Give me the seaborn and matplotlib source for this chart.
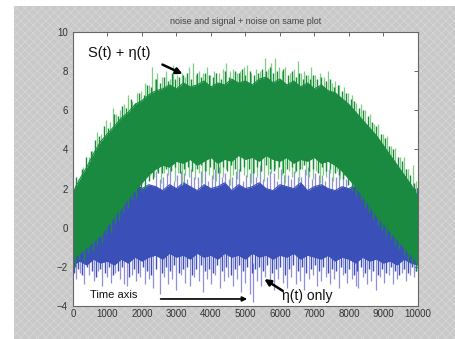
import numpy as np
import pandas as pd
import matplotlib
matplotlib.use('Agg')
import matplotlib.pyplot as plt
import seaborn as sns
from matplotlib.patches import Rectangle

# time grid for the band edges (every 200 samples)
t_grid = list(range(0, 10001, 200))

# dense core of S(t) + eta(t)
green_hi = [1.8, 2.5, 3.1, 3.8, 4.4, 4.8, 5.2, 5.6, 5.9, 6.3,
            6.5, 6.8, 7.0, 7.1, 7.3, 7.1, 7.4, 7.2, 7.3, 7.5,
            7.2, 7.4, 7.3, 7.6, 7.4, 7.5, 7.3, 7.6, 7.7, 7.4,
            7.6, 7.3, 7.5, 7.2, 7.4, 7.1, 7.3, 7.0, 6.9, 6.6,
            6.3, 5.9, 5.5, 5.1, 4.7, 4.2, 3.7, 3.2, 2.7, 2.2, 1.6]
green_lo = [-1.6, -1.3, -1.0, -0.7, -0.4, 0.1, 0.6, 1.0, 1.5, 1.9,
            2.3, 2.7, 3.0, 3.2, 3.1, 3.4, 3.3, 3.5, 3.2, 3.4,
            3.6, 3.3, 3.5, 3.4, 3.7, 3.5, 3.6, 3.4, 3.7, 3.5,
            3.4, 3.6, 3.3, 3.5, 3.4, 3.6, 3.3, 3.4, 3.2, 2.9,
            2.5, 2.1, 1.6, 1.1, 0.6, 0.2, -0.2, -0.6, -1.0, -1.4, -1.8]

# dense core of eta(t) only
blue_hi = [1.9, 2.0, 2.2, 1.9, 2.1, 2.0, 2.2, 1.9, 2.1, 2.3,
           2.0, 2.2, 2.1, 1.9, 2.2, 2.0, 2.3, 2.1, 1.9, 2.2,
           2.0, 2.1, 2.3, 1.9, 2.2, 2.0, 2.1, 2.3, 2.0, 1.9,
           2.2, 2.1, 2.0, 2.3, 1.9, 2.1, 2.2, 2.0, 1.9, 2.1,
           2.0, 2.2, 1.9, 2.1, 2.0, 2.2, 1.9, 2.0, 2.1, 1.9, 2.0]
blue_lo = [-1.9, -1.7, -1.9, -1.6, -1.8, -1.7, -1.9, -1.6, -1.8, -1.5,
           -1.7, -1.5, -1.4, -1.6, -1.3, -1.5, -1.4, -1.6, -1.3, -1.5,
           -1.4, -1.6, -1.3, -1.5, -1.4, -1.6, -1.3, -1.5, -1.4, -1.6,
           -1.4, -1.5, -1.3, -1.6, -1.4, -1.5, -1.6, -1.4, -1.7, -1.5,
           -1.6, -1.8, -1.5, -1.7, -1.6, -1.8, -1.7, -1.9, -1.6, -1.8, -1.9]

# light spikes sticking out of the cores
green_up_t = [60, 150, 300, 450, 560, 700, 820, 950, 1060, 1150,
              1260, 1350, 1480, 1600, 1720, 1850, 1980, 2100, 2200, 2300,
              2380, 2450, 2580, 2700, 2800, 2900, 3020, 3150, 3250, 3350,
              3480, 3560, 3650, 3760, 3880, 3980, 4100, 4230, 4350, 4450,
              4560, 4650, 4750, 4850, 4950, 5050, 5170, 5300, 5420, 5560,
              5650, 5750, 5860, 5980, 6050, 6150, 6280, 6400, 6520, 6600,
              6700, 6800, 6900, 7020, 7150, 7270, 7400, 7500, 7600, 7720,
              7850, 7980, 8100, 8220, 8350, 8470, 8600, 8720, 8850, 8980,
              9100, 9230, 9350, 9480, 9600, 9720, 9850, 9950]
green_up_v = [2.2, 2.5, 3.1, 3.6, 3.9, 4.9, 4.8, 5.5, 5.4, 6.1,
              5.8, 6.0, 6.3, 6.8, 6.5, 6.9, 7.0, 7.4, 7.3, 8.2,
              7.6, 7.9, 7.7, 8.0, 7.6, 8.3, 7.8, 7.9, 7.7, 8.2,
              8.4, 7.8, 8.0, 7.9, 8.2, 7.8, 8.0, 7.9, 8.1, 8.4,
              8.0, 8.1, 7.9, 8.0, 8.2, 8.3, 7.9, 8.1, 8.0, 8.7,
              8.1, 8.4, 8.7, 8.2, 8.0, 8.2, 7.9, 8.1, 8.5, 7.9,
              8.0, 7.8, 8.2, 7.8, 7.9, 7.7, 8.0, 7.4, 7.5, 7.3,
              7.2, 6.9, 6.8, 6.4, 6.3, 6.0, 5.8, 5.3, 5.3, 4.8,
              4.7, 4.2, 4.1, 3.6, 3.6, 3.0, 3.2, 2.4]

green_dn_t = [2350, 2450, 2550, 2650, 2750, 2850, 2950, 3050, 3150, 3250,
              3350, 3450, 3550, 3650, 3750, 3850, 3950, 4050, 4150, 4250,
              4350, 4450, 4550, 4650, 4750, 4850, 4950, 5050, 5150, 5250,
              5350, 5450, 5550, 5650, 5750, 5850, 5950, 6050, 6150, 6250,
              6350, 6450, 6550, 6650, 6750, 6850, 6950, 7050, 7150, 7250,
              7350, 7450, 7550, 7650, 7750, 7850]
green_dn_v = [2.6, 2.9, 2.3, 2.8, 2.7, 3.0, 2.4, 2.8, 2.2, 2.7,
              2.6, 2.9, 2.5, 2.8, 2.3, 2.9, 2.7, 2.5, 2.4, 2.8,
              2.6, 3.0, 2.2, 2.7, 2.5, 2.9, 2.7, 2.6, 2.3, 2.8,
              2.6, 2.9, 2.4, 2.7, 2.8, 3.0, 2.5, 2.7, 2.3, 2.9,
              2.6, 2.8, 2.4, 3.0, 2.7, 2.6, 2.5, 2.9, 2.3, 2.7,
              2.6, 2.8, 2.4, 2.9, 2.5, 2.7]

blue_up_t = [2420, 2520, 2620, 2720, 2820, 2920, 3020, 3120, 3220, 3320,
             3420, 3520, 3620, 3720, 3820, 3920, 4020, 4120, 4220, 4320,
             4420, 4520, 4620, 4720, 4820, 4920, 5020, 5120, 5220, 5320,
             5420, 5520, 5620, 5720, 5820, 5920, 6020, 6120, 6220, 6320,
             6420, 6520, 6620, 6720, 6820, 6920, 7020, 7120, 7220, 7320,
             7420, 7520, 7620, 7720, 7820, 7920]
blue_up_v = [2.9, 2.5, 2.6, 2.8, 3.1, 2.4, 2.7, 2.9, 2.8, 2.5,
             3.0, 2.6, 2.6, 2.9, 2.9, 2.4, 2.7, 3.0, 3.1, 2.6,
             2.8, 2.5, 2.6, 2.9, 3.0, 2.4, 2.7, 2.8, 2.9, 2.6,
             3.2, 2.5, 2.6, 2.9, 2.8, 2.4, 3.0, 2.7, 2.7, 2.5,
             2.9, 2.6, 2.6, 3.0, 3.1, 2.5, 2.8, 2.7, 2.7, 2.4,
             3.0, 2.6, 2.6, 2.9, 2.8, 2.5]

blue_dn_t = [80, 200, 330, 470, 600, 720, 850, 980, 1100, 1230,
             1360, 1480, 1560, 1700, 1830, 1950, 2080, 2200, 2330, 2520,
             2640, 2760, 2880, 3000, 3130, 3260, 3380, 3500, 3640, 3760,
             3880, 4000, 4120, 4250, 4380, 4500, 4630, 4760, 4880, 5000,
             5120, 5220, 5340, 5460, 5580, 5700, 5830, 5950, 6080, 6200,
             6330, 6460, 6580, 6700, 6830, 6950, 7080, 7200, 7330, 7460,
             7580, 7700, 7830, 7950, 8080, 8200, 8270, 8400, 8530, 8650,
             8780, 8900, 9030, 9150, 9280, 9400, 9530, 9650, 9780, 9900]
blue_dn_v = [-2.6, -2.3, -2.9, -2.4, -2.7, -2.2, -3.0, -2.5, -2.8, -2.3,
             -2.6, -2.9, -3.0, -2.4, -2.7, -2.5, -2.9, -2.6, -3.1, -3.4,
             -2.5, -2.9, -2.6, -3.2, -2.4, -2.8, -3.0, -2.5, -2.7, -3.3,
             -2.6, -2.9, -2.4, -3.1, -2.7, -2.5, -3.0, -2.6, -3.3, -2.8,
             -3.4, -3.8, -2.7, -3.0, -2.5, -2.9, -3.2, -2.6, -2.8, -3.1,
             -2.5, -2.9, -2.7, -3.2, -2.6, -2.4, -3.0, -2.7, -2.5, -2.9,
             -2.6, -3.1, -2.4, -2.8, -2.6, -3.0, -3.1, -2.5, -2.9, -2.7,
             -3.2, -2.5, -2.8, -2.4, -2.9, -2.6, -2.3, -2.7, -2.4, -2.5]

# dark (core coloured) spikes that make the band edges ragged
dark_g_up_t = [100, 250, 380, 520, 640, 760, 900, 1020, 1200, 1310,
               1420, 1550, 1680, 1800, 1920, 2050, 2160, 2260, 2420, 2520,
               2640, 2760, 2860, 2960, 3080, 3200, 3300, 3420, 3600, 3700,
               3820, 3930, 4050, 4160, 4290, 4400, 4520, 4700, 4800, 4900,
               5000, 5120, 5240, 5360, 5480, 5600, 5700, 5800, 5920, 6100,
               6220, 6340, 6460, 6560, 6660, 6760, 6860, 6960, 7080, 7200,
               7330, 7450, 7560, 7680, 7800, 7920, 8050, 8160, 8280, 8400,
               8540, 8660, 8780, 8920, 9040, 9160, 9290, 9420, 9540, 9660,
               9780, 9900]
dark_g_up_v = [2.6, 3.0, 3.6, 3.9, 4.5, 4.7, 5.2, 5.1, 5.8, 5.7,
               6.2, 6.1, 6.6, 6.4, 6.9, 6.8, 7.3, 7.2, 7.6, 7.4,
               7.7, 7.5, 7.9, 7.6, 7.7, 7.8, 7.9, 7.6, 7.9, 7.7,
               7.9, 7.8, 7.7, 7.9, 7.6, 8.0, 7.7, 8.0, 7.9, 8.1,
               7.8, 8.0, 7.8, 7.9, 8.1, 8.0, 8.2, 7.9, 8.0, 8.1,
               7.8, 8.0, 7.7, 7.9, 7.6, 7.8, 7.6, 7.8, 7.6, 7.7,
               7.5, 7.6, 7.2, 7.3, 7.0, 6.9, 6.6, 6.5, 6.1, 6.0,
               5.7, 5.4, 5.2, 4.8, 4.6, 4.2, 4.0, 3.6, 3.4, 3.0,
               2.7, 2.3]

dark_g_dn_t = [60, 180, 310, 440, 580, 700, 830, 960, 1090, 1210,
               1340, 1460, 1590, 1710, 1840, 1960, 2090, 2210, 2330, 2460,
               2590, 2710, 2840, 2960, 3090, 3210, 3340, 3460, 3590, 3710,
               3840, 3960, 4090, 4210, 4340, 4460, 4590, 4710, 4840, 4960,
               5090, 5210, 5340, 5460, 5590, 5710, 5840, 5960, 6090, 6210,
               6340, 6460, 6590, 6710, 6840, 6960, 7090, 7210, 7340, 7460,
               7590, 7710, 7840, 7960, 8090, 8210, 8340, 8460, 8590, 8710,
               8840, 8960, 9090, 9210, 9340, 9460, 9590, 9710, 9840, 9960]
dark_g_dn_v = [-2.0, -1.6, -1.7, -1.3, -1.2, -0.9, -0.8, -0.3, -0.2, 0.2,
               0.4, 0.8, 1.0, 1.4, 1.5, 1.9, 2.0, 2.4, 2.5, 2.8,
               2.8, 3.0, 2.9, 3.1, 2.8, 3.0, 3.1, 2.9, 3.0, 3.2,
               2.9, 3.1, 3.0, 2.8, 3.1, 2.9, 3.2, 3.0, 2.9, 3.1,
               3.0, 2.8, 3.1, 2.9, 3.2, 3.0, 2.9, 3.1, 2.8, 3.0,
               3.1, 2.9, 3.0, 3.2, 2.9, 3.0, 2.8, 3.1, 2.9, 3.0,
               2.8, 2.7, 2.5, 2.2, 1.9, 1.6, 1.4, 1.0, 0.8, 0.4,
               0.1, -0.1, -0.4, -0.6, -0.9, -1.1, -1.4, -1.7, -1.9, -2.2]

dark_b_dn_t = [40, 150, 270, 400, 540, 660, 790, 920, 1050, 1170,
               1300, 1420, 1620, 1760, 1890, 2020, 2140, 2270, 2400, 2580,
               2700, 2820, 2940, 3060, 3190, 3320, 3440, 3570, 3700, 3820,
               3940, 4060, 4190, 4310, 4440, 4570, 4690, 4820, 4940, 5060,
               5180, 5290, 5400, 5520, 5640, 5760, 5890, 6010, 6140, 6260,
               6390, 6520, 6640, 6760, 6890, 7010, 7140, 7260, 7390, 7520,
               7640, 7760, 7890, 8010, 8140, 8240, 8340, 8460, 8590, 8710,
               8840, 8960, 9090, 9210, 9340, 9460, 9590, 9710, 9840, 9960]
dark_b_dn_v = [-2.3, -2.1, -2.4, -2.0, -2.2, -2.5, -2.1, -2.3, -2.0, -2.4,
               -2.2, -2.0, -2.5, -2.1, -2.3, -2.0, -2.2, -2.4, -2.1, -2.3,
               -2.0, -2.2, -1.9, -2.3, -2.1, -2.0, -2.4, -2.1, -1.9, -2.2,
               -2.1, -2.3, -1.9, -2.2, -2.0, -2.4, -2.1, -1.9, -2.2, -2.0,
               -2.3, -2.1, -2.0, -2.2, -1.9, -2.3, -2.1, -2.0, -2.4, -2.1,
               -1.9, -2.2, -2.0, -2.3, -2.1, -1.9, -2.2, -2.0, -2.3, -2.1,
               -2.2, -2.0, -2.3, -2.1, -2.4, -2.2, -2.0, -2.3, -2.1, -2.2,
               -2.4, -2.1, -2.3, -2.0, -2.2, -2.4, -2.1, -2.3, -2.0, -2.2]

x_ticks = list(range(0, 10001, 1000))
y_ticks = [-4, -2, 0, 2, 4, 6, 8, 10]

GREEN = '#1a8a40'
LIGHT_GREEN = '#7fcf80'
BLUE = '#3a50b8'
LIGHT_BLUE = '#8f8fdc'

sns.set_style('white')
plt.rcParams['font.family'] = ['Liberation Sans', 'DejaVu Sans']
plt.rcParams['hatch.linewidth'] = 0.5

bands = pd.DataFrame({'t': t_grid, 'g_hi': green_hi, 'g_lo': green_lo,
                      'b_hi': blue_hi, 'b_lo': blue_lo})

fig = plt.figure(figsize=(4.55, 3.39), dpi=100, facecolor='white')
fig.patches.append(Rectangle((0.031, 0.0), 0.969, 0.982, transform=fig.transFigure,
                             facecolor='#c9c9c9', edgecolor='#d8d8d8', hatch='xxxx',
                             linewidth=0, zorder=-10))
ax = fig.add_axes([0.1604, 0.0973, 0.758, 0.808])
ax.set_zorder(5)
ax.set_facecolor('white')

# eta(t) only
bd = np.array(blue_dn_v)
ax.vlines(blue_dn_t, bd + 2.0, bd, color=LIGHT_BLUE, lw=0.9, zorder=1)
bu = np.array(blue_up_v)
ax.vlines(blue_up_t, bu - 1.5, bu, color=LIGHT_BLUE, lw=0.9, zorder=1)
ax.fill_between(bands['t'], bands['b_lo'], bands['b_hi'], color=BLUE, lw=0, zorder=2)
sns.lineplot(data=bands, x='t', y='b_lo', color=BLUE, lw=0.8, ax=ax, zorder=2.1)
sns.lineplot(data=bands, x='t', y='b_hi', color=BLUE, lw=0.8, ax=ax, zorder=2.1)
dbd = np.array(dark_b_dn_v)
ax.vlines(dark_b_dn_t, dbd + 1.0, dbd, color=BLUE, lw=1.0, zorder=2.2)

# S(t) + eta(t)
gu = np.array(green_up_v)
ax.vlines(green_up_t, gu - 2.0, gu, color=LIGHT_GREEN, lw=0.9, zorder=3)
gd = np.array(green_dn_v)
ax.vlines(green_dn_t, gd + 1.5, gd, color=LIGHT_GREEN, lw=0.9, zorder=3)
ax.fill_between(bands['t'], bands['g_lo'], bands['g_hi'], color=GREEN, lw=0, zorder=4)
sns.lineplot(data=bands, x='t', y='g_hi', color=GREEN, lw=0.8, ax=ax, zorder=4.1)
sns.lineplot(data=bands, x='t', y='g_lo', color=GREEN, lw=0.8, ax=ax, zorder=4.1)
dgu = np.array(dark_g_up_v)
ax.vlines(dark_g_up_t, dgu - 1.0, dgu, color=GREEN, lw=1.0, zorder=4.2)
dgd = np.array(dark_g_dn_v)
ax.vlines(dark_g_dn_t, dgd + 1.0, dgd, color=GREEN, lw=1.0, zorder=4.2)

ax.set_xlim(0, 10000)
ax.set_ylim(-4, 10)
ax.set_xticks(x_ticks)
ax.set_yticks(y_ticks)
ax.set_xlabel('')
ax.set_ylabel('')
ax.tick_params(direction='in', top=True, right=True, length=3, width=0.6,
               color='#555555', labelcolor='#333333', labelsize=7)
ax.tick_params(axis='x', pad=2)
ax.tick_params(axis='y', pad=3.5)
for s in ax.spines.values():
    s.set_color('#666666')
    s.set_linewidth(0.8)
    s.set_zorder(10)

ax.set_title('noise and signal + noise on same plot', fontsize=6.5, color='#444444', pad=6)

ax.text(435, 8.95, 'S(t) + \u03b7(t)', fontsize=10.5, color='#111111', va='center', zorder=6)
ax.annotate('', xy=(3250, 7.8), xytext=(2520, 8.4), zorder=6,
            arrowprops=dict(arrowstyle='-|>', color='black', lw=1.8, mutation_scale=9))
ax.text(6058, -3.5, '\u03b7(t) only', fontsize=10, color='#111111', va='center', zorder=6)
ax.annotate('', xy=(5480, -2.55), xytext=(6150, -3.3), zorder=6,
            arrowprops=dict(arrowstyle='-|>', color='black', lw=1.8, mutation_scale=9))
ax.text(490, -3.45, 'Time axis', fontsize=8, color='#111111', va='center', zorder=6)
ax.annotate('', xy=(5130, -3.64), xytext=(2460, -3.64), zorder=6,
            arrowprops=dict(arrowstyle='-|>', color='black', lw=1.2, mutation_scale=7))

fig.savefig('out.png', dpi=100, facecolor=fig.get_facecolor())
